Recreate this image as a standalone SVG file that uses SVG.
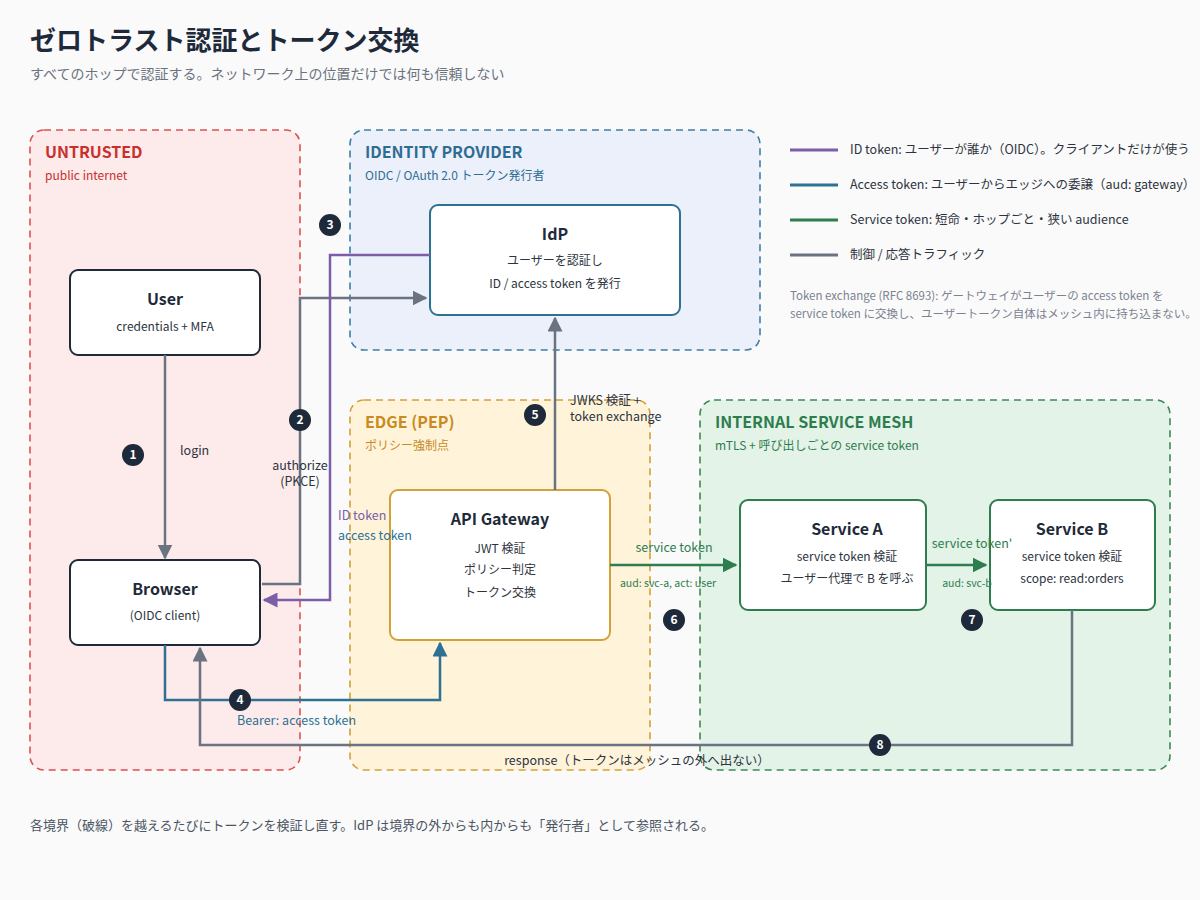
<svg xmlns="http://www.w3.org/2000/svg" width="1200" height="900" viewBox="0 0 1200 900">
<defs>
<style>
text{font-family:"Noto Sans CJK JP","Noto Sans",sans-serif;}
.zone{stroke-width:1.6;stroke-dasharray:7 5;}
.zt{font-size:16px;font-weight:bold;}
.zs{font-size:12px;}
.node{fill:#fff;stroke-width:2;}
.nt{font-size:16px;font-weight:bold;fill:#1e2a3a;text-anchor:middle;}
.ns{font-size:12px;fill:#2d3440;text-anchor:middle;}
.c{fill:none;stroke-width:2.5;}
.gray{stroke:#6b7280;}
.purple{stroke:#7b5ea7;}
.blue{stroke:#2e7193;}
.green{stroke:#2e7d4f;}
.lbl{font-size:12.5px;}
.badge circle{fill:#1e2a3a;}
.badge text{fill:#fff;font-size:12px;font-weight:bold;text-anchor:middle;}
.leg{font-size:12.5px;fill:#2d3440;}
</style>
<marker id="ag" viewBox="0 0 10 10" refX="9" refY="5" markerWidth="6" markerHeight="6" orient="auto"><path d="M0,0L10,5L0,10z" fill="#6b7280"/></marker>
<marker id="ap" viewBox="0 0 10 10" refX="9" refY="5" markerWidth="6" markerHeight="6" orient="auto"><path d="M0,0L10,5L0,10z" fill="#7b5ea7"/></marker>
<marker id="ab" viewBox="0 0 10 10" refX="9" refY="5" markerWidth="6" markerHeight="6" orient="auto"><path d="M0,0L10,5L0,10z" fill="#2e7193"/></marker>
<marker id="agr" viewBox="0 0 10 10" refX="9" refY="5" markerWidth="6" markerHeight="6" orient="auto"><path d="M0,0L10,5L0,10z" fill="#2e7d4f"/></marker>
</defs>
<rect width="1200" height="900" fill="#fafafa"/>
<text x="30" y="50" font-size="26" font-weight="bold" fill="#1e2a3a">ゼロトラスト認証とトークン交換</text>
<text x="30" y="79" font-size="14" fill="#6b7280">すべてのホップで認証する。ネットワーク上の位置だけでは何も信頼しない</text>

<g id="zone-untrusted"><rect class="zone" x="30" y="130" width="270" height="640" rx="14" fill="#fdeaea" stroke="#d9534f"/>
<text class="zt" x="45" y="158" fill="#c9302c">UNTRUSTED</text><text class="zs" x="45" y="180" fill="#c9302c">public internet</text></g>
<g id="zone-idp"><rect class="zone" x="350" y="130" width="410" height="220" rx="14" fill="#ebf0fb" stroke="#3f7fa8"/>
<text class="zt" x="365" y="158" fill="#2e6d93">IDENTITY PROVIDER</text><text class="zs" x="365" y="180" fill="#2e6d93">OIDC / OAuth 2.0 トークン発行者</text></g>
<g id="zone-edge"><rect class="zone" x="350" y="400" width="300" height="370" rx="14" fill="#fff3da" stroke="#d4a03a"/>
<text class="zt" x="365" y="428" fill="#c98a1e">EDGE (PEP)</text><text class="zs" x="365" y="450" fill="#c98a1e">ポリシー強制点</text></g>
<g id="zone-mesh"><rect class="zone" x="700" y="400" width="470" height="370" rx="14" fill="#e4f3e7" stroke="#3d8a55"/>
<text class="zt" x="715" y="428" fill="#2e7d4f">INTERNAL SERVICE MESH</text><text class="zs" x="715" y="450" fill="#2e7d4f">mTLS + 呼び出しごとの service token</text></g>

<g id="node-user"><rect class="node" x="70" y="270" width="190" height="85" rx="8" stroke="#1e2a3a"/>
<text class="nt" x="165" y="305">User</text><text class="ns" x="165" y="331">credentials + MFA</text></g>
<g id="node-browser"><rect class="node" x="70" y="560" width="190" height="85" rx="8" stroke="#1e2a3a"/>
<text class="nt" x="165" y="595">Browser</text><text class="ns" x="165" y="620">(OIDC client)</text></g>
<g id="node-idp"><rect class="node" x="430" y="205" width="250" height="110" rx="8" stroke="#2e7193"/>
<text class="nt" x="555" y="240">IdP</text><text class="ns" x="555" y="265">ユーザーを認証し</text><text class="ns" x="555" y="288">ID / access token を発行</text></g>
<g id="node-gateway"><rect class="node" x="390" y="490" width="220" height="150" rx="8" stroke="#d4a03a"/>
<text class="nt" x="500" y="525">API Gateway</text><text class="ns" x="500" y="553">JWT 検証</text><text class="ns" x="500" y="574">ポリシー判定</text><text class="ns" x="500" y="597">トークン交換</text></g>
<g id="node-service-a"><rect class="node" x="740" y="500" width="186" height="110" rx="8" stroke="#2e7d4f"/>
<text class="nt" x="847" y="535">Service A</text><text class="ns" x="847" y="561">service token 検証</text><text class="ns" x="847" y="583">ユーザー代理で B を呼ぶ</text></g>
<g id="node-service-b"><rect class="node" x="990" y="500" width="165" height="110" rx="8" stroke="#2e7d4f"/>
<text class="nt" x="1072" y="535">Service B</text><text class="ns" x="1072" y="561">service token 検証</text><text class="ns" x="1072" y="583">scope: read:orders</text></g>

<g id="connectors">
<path class="c gray" d="M165,355V558" marker-end="url(#ag)"/>
<path class="c gray" d="M262,584H300V298H426" marker-end="url(#ag)"/>
<path class="c purple" d="M430,255H330V600H264" marker-end="url(#ap)"/>
<path class="c blue" d="M165,645V700H440V643" marker-end="url(#ab)"/>
<path class="c gray" d="M555,490V318" marker-end="url(#ag)"/>
<path class="c green" d="M610,565H736" marker-end="url(#agr)"/>
<path class="c green" d="M926,565H986" marker-end="url(#agr)"/>
<path class="c gray" d="M1072,610V745H200V648" marker-end="url(#ag)"/>
<text class="lbl" x="180" y="455" fill="#2d3440">login</text>
<text class="lbl" x="300" y="470" fill="#2d3440" text-anchor="middle">authorize</text>
<text class="lbl" x="300" y="486" fill="#2d3440" text-anchor="middle">(PKCE)</text>
<text class="lbl" x="338" y="520" fill="#7b5ea7">ID token</text>
<text class="lbl" x="338" y="540" fill="#2e7193">access token</text>
<text class="lbl" x="237" y="725" fill="#2e7193">Bearer: access token</text>
<text class="lbl" x="570" y="405" fill="#2d3440">JWKS 検証 +</text>
<text class="lbl" x="570" y="421" fill="#2d3440">token exchange</text>
<text class="lbl" x="674" y="552" fill="#2e7d4f" text-anchor="middle">service token</text>
<text x="668" y="587" font-size="10.5" fill="#2e7d4f" text-anchor="middle">aud: svc-a, act: user</text>
<text class="lbl" x="972" y="548" fill="#2e7d4f" text-anchor="middle">service token'</text>
<text x="967" y="587" font-size="10.5" fill="#2e7d4f" text-anchor="middle">aud: svc-b</text>
<text class="lbl" x="637" y="765" fill="#2d3440" text-anchor="middle">response（トークンはメッシュの外へ出ない）</text>
<g class="badge"><circle cx="133" cy="455" r="11"/><text x="133" y="459">1</text></g>
<g class="badge"><circle cx="300" cy="420" r="11"/><text x="300" y="424">2</text></g>
<g class="badge"><circle cx="330" cy="225" r="11"/><text x="330" y="229">3</text></g>
<g class="badge"><circle cx="240" cy="700" r="11"/><text x="240" y="704">4</text></g>
<g class="badge"><circle cx="535" cy="415" r="11"/><text x="535" y="419">5</text></g>
<g class="badge"><circle cx="674" cy="620" r="11"/><text x="674" y="624">6</text></g>
<g class="badge"><circle cx="972" cy="620" r="11"/><text x="972" y="624">7</text></g>
<g class="badge"><circle cx="880" cy="745" r="11"/><text x="880" y="749">8</text></g>
</g>

<g id="legend">
<line x1="790" y1="150" x2="838" y2="150" stroke="#7b5ea7" stroke-width="3"/><text class="leg" x="850" y="154">ID token: ユーザーが誰か（OIDC）。クライアントだけが使う</text>
<line x1="790" y1="185" x2="838" y2="185" stroke="#2e7193" stroke-width="3"/><text class="leg" x="850" y="189">Access token: ユーザーからエッジへの委譲（aud: gateway）</text>
<line x1="790" y1="220" x2="838" y2="220" stroke="#2e7d4f" stroke-width="3"/><text class="leg" x="850" y="224">Service token: 短命・ホップごと・狭い audience</text>
<line x1="790" y1="255" x2="838" y2="255" stroke="#6b7280" stroke-width="3"/><text class="leg" x="850" y="259">制御 / 応答トラフィック</text>
<text x="790" y="300" font-size="11.5" fill="#7b8290">Token exchange (RFC 8693): ゲートウェイがユーザーの access token を</text>
<text x="790" y="318" font-size="11.5" fill="#7b8290">service token に交換し、ユーザートークン自体はメッシュ内に持ち込まない。</text>
</g>
<text x="30" y="830" font-size="13" fill="#4b5563">各境界（破線）を越えるたびにトークンを検証し直す。IdP は境界の外からも内からも「発行者」として参照される。</text>
</svg>
